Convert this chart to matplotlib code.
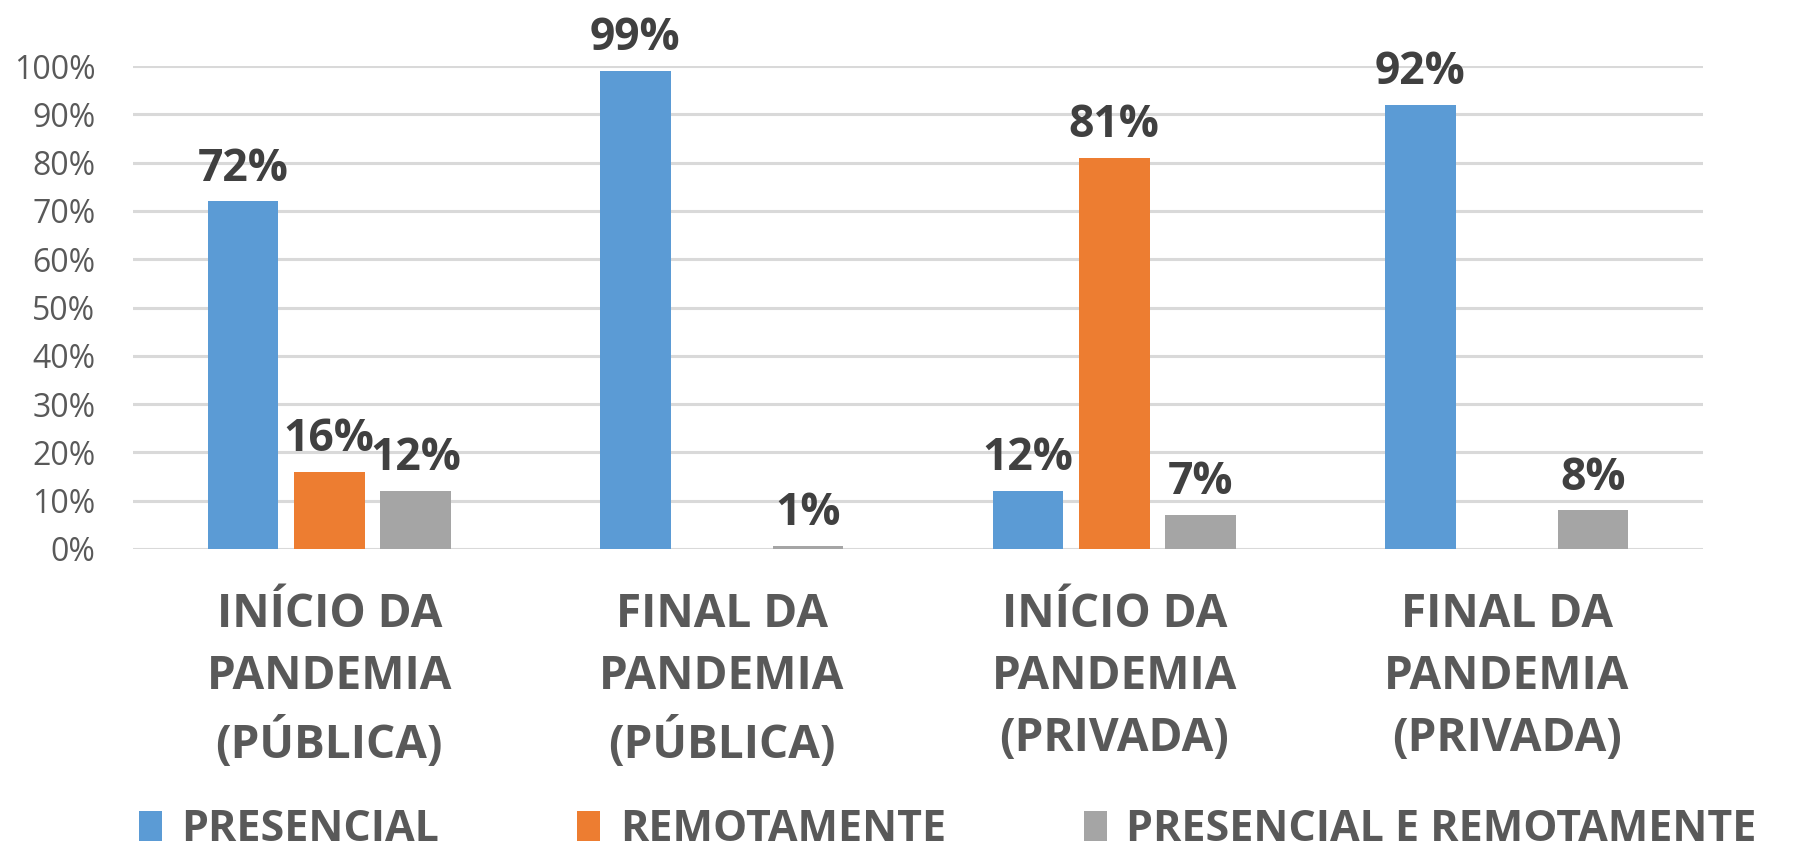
import matplotlib
matplotlib.use("Agg")
import matplotlib.pyplot as plt
import numpy as np
from matplotlib.patches import Patch

categories = ["INÍCIO DA\nPANDEMIA\n(PÚBLICA)", "FINAL DA\nPANDEMIA\n(PÚBLICA)",
              "INÍCIO DA\nPANDEMIA\n(PRIVADA)", "FINAL DA\nPANDEMIA\n(PRIVADA)"]
series_names = ["PRESENCIAL", "REMOTAMENTE", "PRESENCIAL E REMOTAMENTE"]
presencial = [72, 99, 12, 92]
remotamente = [16, 0, 81, 0]
ambos = [12, 0.6, 7, 8]
series = [presencial, remotamente, ambos]
colors = ["#5B9BD5", "#ED7D31", "#A5A5A5"]
yticks = [0, 10, 20, 30, 40, 50, 60, 70, 80, 90, 100]

plt.rcParams['font.family'] = ['Open Sans', 'DejaVu Sans']

fig = plt.figure(figsize=(18.14, 8.55), dpi=100)
ax = fig.add_axes([0.0733, 0.3579, 0.8655, 0.5649])

x = np.arange(len(categories))
width = 0.18
offsets = [-0.22, 0.0, 0.22]
for vals, off, col, name in zip(series, offsets, colors, series_names):
    bars = ax.bar(x + off, vals, width, color=col, zorder=3, label=name)
    for b, v in zip(bars, vals):
        if v > 0:
            ax.annotate(f"{round(v)}%", (b.get_x() + b.get_width() / 2, b.get_height()),
                        xytext=(0, 7), textcoords="offset points", ha="center", va="bottom",
                        fontsize=32, fontweight="bold", color="#404040", clip_on=False)

ax.set_xlim(-0.5, 3.5)
ax.set_ylim(0, 100)
ax.set_yticks(yticks)
ax.set_yticklabels([f"{t}%" for t in yticks])
ax.yaxis.grid(True, color="#D9D9D9", linewidth=2.2, zorder=0)
ax.set_axisbelow(True)
for s in ax.spines.values():
    s.set_visible(False)
ax.tick_params(axis="y", length=0, pad=27, labelsize=23, labelcolor="#595959")
ax.set_xticks(x)
ax.set_xticklabels(categories, fontsize=33, fontweight="bold", color="#595959",
                   linespacing=1.42)
ax.tick_params(axis="x", length=0, pad=30)

handles = [Patch(facecolor=c, edgecolor="none") for c in colors]
leg = fig.legend(handles, series_names, loc="center left", bbox_to_anchor=(0.0766, 0.03),
                 ncol=3, frameon=False, prop={"size": 31, "weight": "bold"},
                 handlelength=0.54, handleheight=0.7, handletextpad=0.45,
                 columnspacing=3.2, borderaxespad=0, borderpad=0)
for t in leg.get_texts():
    t.set_color("#595959")

fig.savefig("out.png", dpi=100, facecolor="white")
